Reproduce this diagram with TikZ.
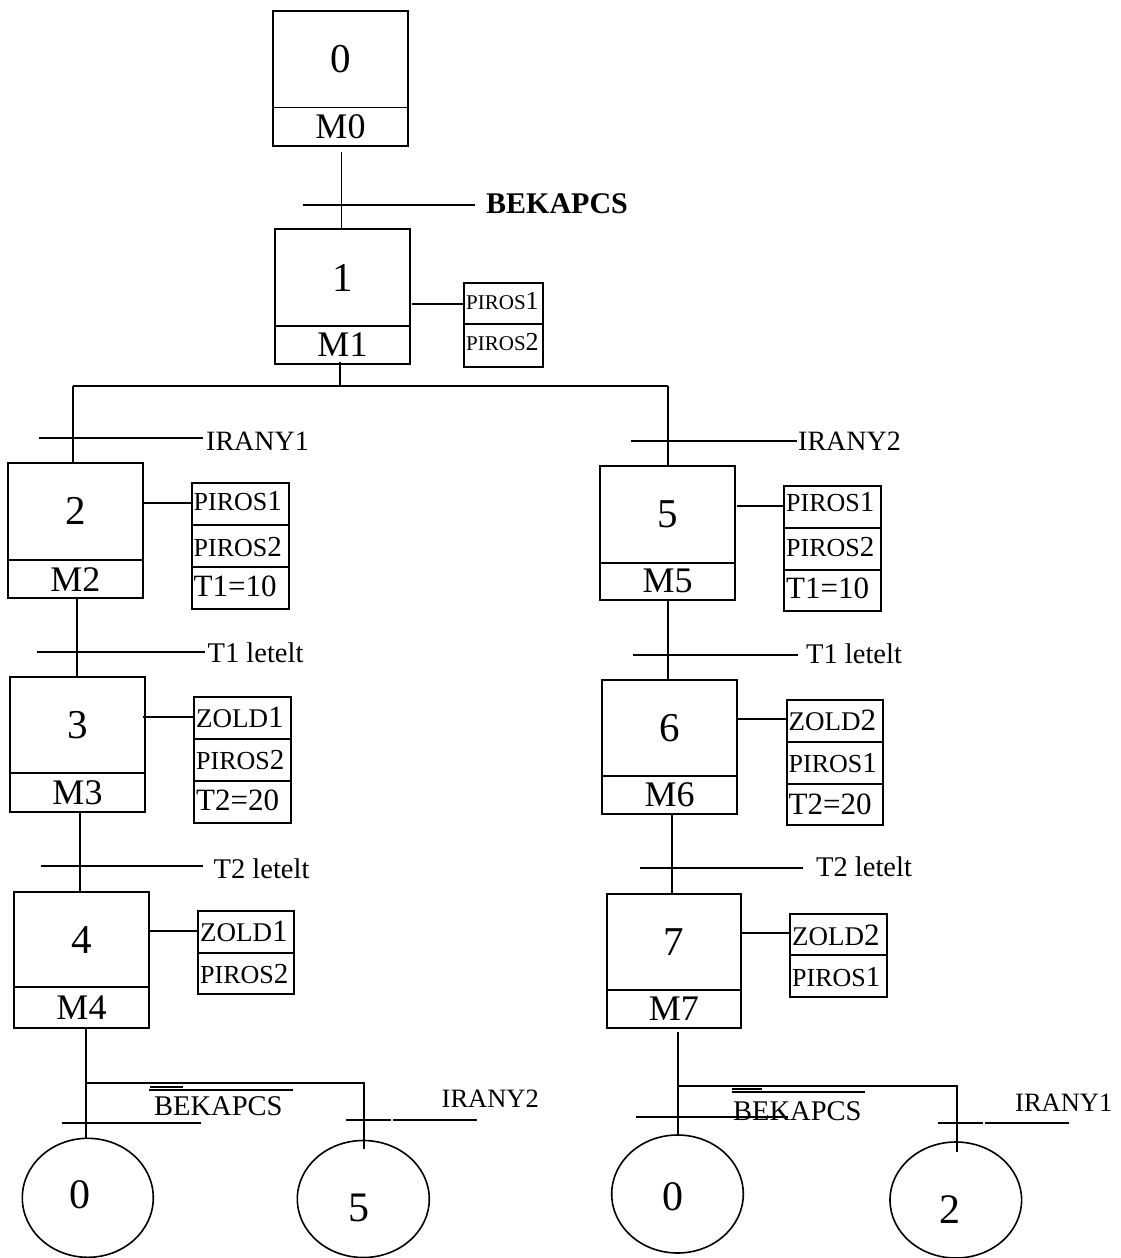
\documentclass[tikz,border=0pt]{standalone}
\usepackage{fontspec}
\setmainfont{Liberation Serif}
\usetikzlibrary{fit,shapes.geometric}
\newcommand\FS[1]{\fontsize{#1}{#1}\selectfont}
\newcommand\pl[2]{{\FS{26}#1\FS{29}#2}}
\newcommand\ps[2]{{\FS{21}#1\FS{26}#2}}
\newcommand\zl[2]{{\FS{27}#1\FS{31}#2}}
\tikzset{
  ln/.style={line width=1.9pt},
  box/.style={draw, line width=1.9pt, inner sep=0pt, fit={#1}},
  lbl/.style={inner sep=0pt, anchor=base west},
  num/.style={inner sep=0pt, font=\FS{41}},
  mlab/.style={inner sep=0pt, font=\FS{36}},
  circ/.style={draw, ellipse, line width=1.6pt, inner sep=0pt},
}
\newcommand\Gstep[8]{%
  \node[box={(#2,#3) (#4,#5)}] (#1) {};
  \draw[ln] (#2,#6) -- (#4,#6);
  \node[num] (#1n) at ({(#2+#4)/2},{(#3+#6)/2}) {#7};
  \node[mlab] (#1m) at ({(#2+#4)/2},{(#6+#5)/2}) {#8};
}
\begin{document}
\begin{tikzpicture}[x=1pt,y=-1pt]
\useasboundingbox[fill=white] (0,0) rectangle (1121,1258);

% ---------- steps ----------
\Gstep{s0}{273}{11}{408}{146}{107.5}{0}{M0}
\Gstep{s1}{275}{229.3}{410}{364}{325.7}{1}{M1}
\Gstep{s2}{7.7}{462.7}{143.3}{598.3}{560}{2}{M2}
\Gstep{s3}{10}{677.3}{145}{811.7}{773.3}{3}{M3}
\Gstep{s4}{14}{891.7}{149}{1027.8}{987.3}{4}{M4}
\Gstep{s5}{600}{466}{735}{600}{562.7}{5}{M5}
\Gstep{s6}{602.3}{680}{736.7}{814}{776}{6}{M6}
\Gstep{s7}{606.7}{894}{741}{1028.3}{990}{7}{M7}

% ---------- action boxes ----------
\node[box={(464,283) (543,367)}] (a1) {};
\draw[ln] (464,324) -- (543,324);
\node[lbl] (a1t1) at (466,309.3) {\ps{PIROS}{1}};
\node[lbl] (a1t2) at (466,350.7) {\ps{PIROS}{2}};

\node[box={(191.7,482.7) (289,609)}] (a2) {};
\draw[ln] (191.7,525) -- (289,525);
\draw[ln] (191.7,566.7) -- (289,566.7);
\node[lbl] (a2t1) at (193.5,510) {\pl{PIROS}{1}};
\node[lbl] (a2t2) at (193.5,556) {\pl{PIROS}{2}};
\node[lbl] (a2t3) at (193.5,596.7) {\FS{31}T1=10};

\node[box={(784,486) (881,610.7)}] (a5) {};
\draw[ln] (784,527.7) -- (881,527.7);
\draw[ln] (784,570) -- (881,570);
\node[lbl] (a5t1) at (786,511.7) {\pl{PIROS}{1}};
\node[lbl] (a5t2) at (786,556) {\pl{PIROS}{2}};
\node[lbl] (a5t3) at (786,598.3) {\FS{31}T1=10};

\node[box={(194,697.3) (290.7,822.7)}] (a3) {};
\draw[ln] (194,739) -- (290.7,739);
\draw[ln] (194,781) -- (290.7,781);
\node[lbl] (a3t1) at (196,727.3) {\zl{ZOLD}{1}};
\node[lbl] (a3t2) at (196,769.3) {\pl{PIROS}{2}};
\node[lbl] (a3t3) at (196,810.7) {\FS{31}T2=20};

\node[box={(786.7,700) (882.7,825)}] (a6) {};
\draw[ln] (786.7,741.7) -- (882.7,741.7);
\draw[ln] (786.7,784) -- (882.7,784);
\node[lbl] (a6t1) at (788.5,730) {\zl{ZOLD}{2}};
\node[lbl] (a6t2) at (788.5,772.7) {\pl{PIROS}{1}};
\node[lbl] (a6t3) at (788.5,814) {\FS{31}T2=20};

\node[box={(198.3,911) (294.3,994.3)}] (a4) {};
\draw[ln] (198.3,952.7) -- (294.3,952.7);
\node[lbl] (a4t1) at (200,941.7) {\zl{ZOLD}{1}};
\node[lbl] (a4t2) at (200,983.3) {\pl{PIROS}{2}};

\node[box={(790,914) (886.7,997.3)}] (a7) {};
\draw[ln] (790,955) -- (886.7,955);
\node[lbl] (a7t1) at (792,945) {\zl{ZOLD}{2}};
\node[lbl] (a7t2) at (792,986.7) {\pl{PIROS}{1}};

% ---------- action connectors ----------
\coordinate (k1) at (411.7,304);   \draw[ln] (k1) -- (k1 -| a1.west);
\coordinate (k2) at (143.3,502.7); \draw[ln] (k2) -- (k2 -| a2.west);
\coordinate (k5) at (737,505.7);   \draw[ln] (k5) -- (k5 -| a5.west);
\coordinate (k3) at (143.3,716.7); \draw[ln] (k3) -- (k3 -| a3.west);
\coordinate (k6) at (736.7,719.3); \draw[ln] (k6) -- (k6 -| a6.west);
\coordinate (k4) at (149,930.7);   \draw[ln] (k4) -- (k4 -| a4.west);
\coordinate (k7) at (741,933.3);   \draw[ln] (k7) -- (k7 -| a7.west);

% ---------- sequence links and transitions ----------
\coordinate (v0) at (341.5,152);
\draw[ln] (v0) -- (v0 |- s1.north);
\draw[ln] (303,205) -- (475,205);
\node[lbl, font=\FS{30}\bfseries] (tr0) at (486,213.3) {BEKAPCS};

\coordinate (v1) at (340,361.7);
\coordinate (brL) at (73.3,385.7);
\coordinate (brR) at (668.3,385.7);
\draw[ln] (v1) -- (v1 |- brL);
\draw[ln] (brL) -- (brR);
\draw[ln] (brL) -- (brL |- s2.north);
\draw[ln] (brR) -- (brR |- s5.north);
\draw[ln] (39,438.3) -- (203,438.3);
\node[lbl, font=\FS{28}] (tr1) at (206,450) {IRANY1};
\draw[ln] (631,441) -- (797,441);
\node[lbl, font=\FS{28}] (tr5) at (798,450) {IRANY2};

\coordinate (v2) at (76.7,598.3);
\draw[ln] (v2) -- (v2 |- s3.north);
\draw[ln] (36.7,651.7) -- (205,651.7);
\node[lbl, font=\FS{28.5}] (tr2) at (207.5,662.7) {T1 letelt};

\coordinate (v3) at (80,811.7);
\draw[ln] (v3) -- (v3 |- s4.north);
\draw[ln] (41,866) -- (203,866);
\node[lbl, font=\FS{28.5}] (tr3) at (213.5,878.3) {T2 letelt};

\coordinate (v5) at (668.3,600);
\draw[ln] (v5) -- (v5 |- s6.north);
\draw[ln] (633,655) -- (798,655);
\node[lbl, font=\FS{28.5}] (tr6) at (806,663.3) {T1 letelt};

\coordinate (v6) at (672.3,814);
\draw[ln] (v6) -- (v6 |- s7.north);
\draw[ln] (640,867.7) -- (803.3,867.7);
\node[lbl, font=\FS{28.5}] (tr7) at (816,876.7) {T2 letelt};

% ---------- jump targets ----------
\node[circ, minimum width=131pt, minimum height=119pt] (j0L) at (87.8,1197.8) {};
\node[num, font=\FS{42}] (j0Ln) at (80,1195) {0};
\node[circ, minimum width=132pt, minimum height=117pt] (j5) at (363.3,1199) {};
\node[num, font=\FS{42}] (j5n) at (359,1208) {5};
\node[circ, minimum width=131.6pt, minimum height=118pt] (j0R) at (677.5,1194) {};
\node[num, font=\FS{42}] (j0Rn) at (672.7,1196.7) {0};
\node[circ, minimum width=131.6pt, minimum height=116pt] (j2) at (955.8,1200) {};
\node[num, font=\FS{42}] (j2n) at (950,1210) {2};

% ---------- left divergence ----------
\coordinate (v4) at (86,1029);
\coordinate (b4L) at (86,1082.7);
\coordinate (b4R) at (364,1082.7);
\draw[ln] (v4) -- (v4 |- j0L.north);
\draw[ln] (b4L) -- (b4R) -- (364,1149.3);
\draw[ln] (61.7,1122.7) -- (201,1122.7);
\node[lbl, font=\FS{28.5}] (tr4a) at (154,1115) {BEKAPCS};
\draw[ln] (149.3,1090) -- (293.3,1090);
\draw[ln] (150,1086.7) -- (183.3,1086.7);
\draw[ln] (346,1120) -- (391,1120);
\draw[ln] (393,1120) -- (476.7,1120);
\node[lbl, font=\FS{26.5}] (tr4b) at (441.5,1107.3) {IRANY2};

% ---------- right divergence ----------
\coordinate (v7) at (678.3,1031.7);
\coordinate (b7L) at (678.3,1086);
\coordinate (b7R) at (956.7,1086);
\draw[ln] (v7) -- (v7 |- j0R.north);
\draw[ln] (b7L) -- (b7R) -- (956.7,1151.7);
\draw[ln] (636,1116.7) -- (788.3,1116.7);
\node[lbl, font=\FS{28.5}] (tr7a) at (733,1120) {BEKAPCS};
\draw[ln] (731.7,1091.7) -- (865,1091.7);
\draw[ln] (731.7,1088.7) -- (761.7,1088.7);
\draw[ln] (938.3,1123.3) -- (983,1123.3);
\draw[ln] (985,1123.3) -- (1069.3,1123.3);
\node[lbl, font=\FS{26.5}] (tr7b) at (1015,1111.7) {IRANY1};
\end{tikzpicture}
\end{document}
